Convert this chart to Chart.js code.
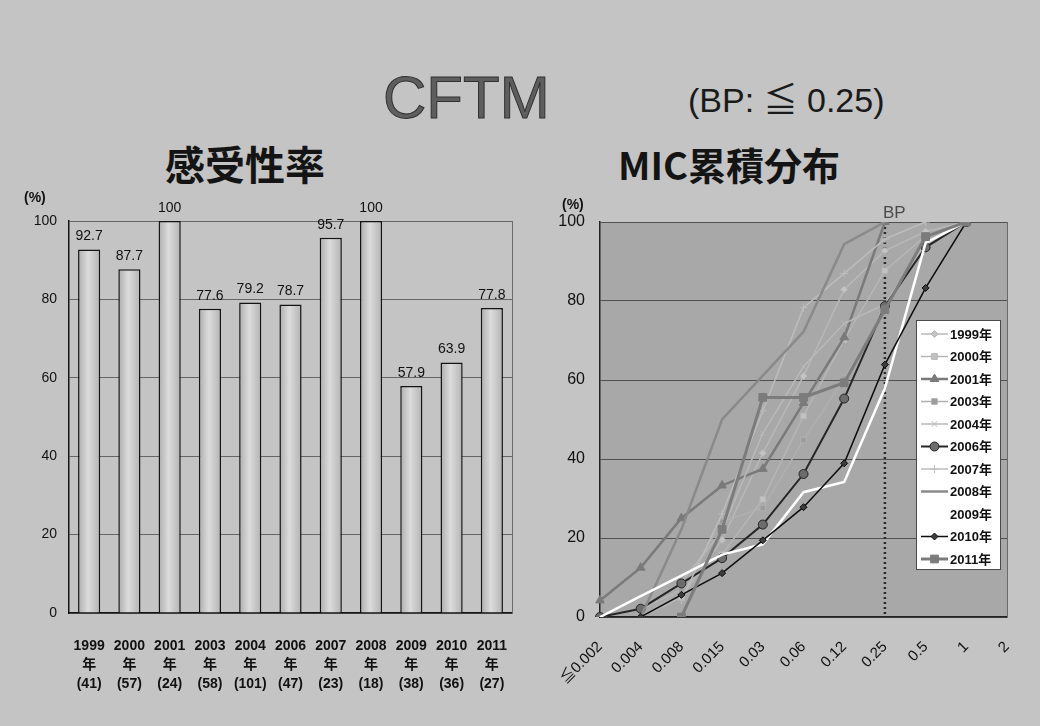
<!DOCTYPE html>
<html>
<head>
<meta charset="utf-8">
<script src="https://cdn.jsdelivr.net/npm/chart.js@4.4.1/dist/chart.umd.min.js"></script>
<style>
  html, body { margin: 0; padding: 0; }
  body {
    width: 1040px; height: 726px; position: relative; overflow: hidden;
    background: #c4c4c4;
    font-family: 'Liberation Sans', 'Noto Sans CJK JP', sans-serif;
  }
  .t { position: absolute; white-space: nowrap; line-height: 1; }
  #drug { left: 383px; top: 68px; font-size: 60px; color: #5e5e5e; -webkit-text-stroke: 1px #303030;
          font-family: 'Liberation Sans', sans-serif; }
  #bp { left: 688px; top: 83px; font-size: 34px; color: #1a1a1a; }
  #sub1, #sub2 { top: 143px; font-size: 40px; font-weight: bold; color: #141414;
                 font-family: 'Noto Sans CJK JP', sans-serif; }
  #sub1 { left: 165px; }
  #sub2 { left: 618px; font-size: 38px; top: 145px; }
  .box { position: absolute; }
  #leftBox { left: 0; top: 185px; width: 540px; height: 515px; }
  #rightBox { left: 540px; top: 190px; width: 500px; height: 510px; }
</style>
</head>
<body>
<div class="t" id="drug">CFTM</div>
<div class="t" id="bp">(BP: ≦ 0.25)</div>
<div class="t" id="sub1">感受性率</div>
<div class="t" id="sub2">MIC累積分布</div>
<div class="box" id="leftBox"><canvas id="rateChart" width="540" height="515"></canvas></div>
<div class="box" id="rightBox"><canvas id="micChart" width="500" height="510"></canvas></div>

<script>
// ---- susceptibility rate by year ----
const years = ['1999', '2000', '2001', '2003', '2004', '2006', '2007', '2008', '2009', '2010', '2011'];
const isolates = [41, 57, 24, 58, 101, 47, 23, 18, 38, 36, 27];
const susceptibility = [92.7, 87.7, 100, 77.6, 79.2, 78.7, 95.7, 100, 57.9, 63.9, 77.8];
const rateTicks = [0, 20, 40, 60, 80, 100];

// ---- cumulative MIC distribution (%) ----
const micLabels = ['≦0.002', '0.004', '0.008', '0.015', '0.03', '0.06', '0.12', '0.25', '0.5', '1', '2'];
const breakpoint = '0.25';
const cum1999 = [null, 0, 4.9, 19.5, 41.5, 61.0, 82.9, 92.7, 97.6, 100, null];
const cum2000 = [null, 1.8, 7.0, 15.8, 29.8, 50.9, 70.2, 87.7, 96.5, 100, null];
const cum2001 = [4.2, 12.5, 25.0, 33.3, 37.5, 54.2, 70.8, 100, null, null, null];
const cum2003 = [null, 0, 6.9, 24.1, 27.6, 44.8, 60.3, 77.6, 94.8, 100, null];
const cum2004 = [0, 2.0, 8.9, 21.8, 46.5, 63.4, 74.3, 79.2, 95.0, 100, null];
const cum2006 = [0, 2.1, 8.5, 14.9, 23.4, 36.2, 55.3, 78.7, 93.6, 100, null];
const cum2007 = [null, null, 4.3, 26.1, 52.2, 78.3, 87.0, 95.7, 100, null, null];
const cum2008 = [null, 0, 22.2, 50.0, 61.1, 72.2, 94.4, 100, null, null, null];
const cum2009 = [0, 5.3, 10.5, 15.8, 18.4, 31.6, 34.2, 57.9, 94.7, 100, null];
const cum2010 = [null, 0, 5.6, 11.1, 19.4, 27.8, 38.9, 63.9, 83.3, 100, null];
const cum2011 = [null, null, 0, 22.2, 55.6, 55.6, 59.3, 77.8, 96.3, 100, null];

const TXT = '#111';

// soft cylindrical shading for each bar
function barFill(c) {
  const el = c.element;
  if (!el || !isFinite(el.x) || !isFinite(el.width)) return '#cfcfcf';
  const g = c.chart.ctx.createLinearGradient(el.x - el.width / 2, 0, el.x + el.width / 2, 0);
  g.addColorStop(0, '#adadad');
  g.addColorStop(0.45, '#dcdcdc');
  g.addColorStop(1, '#b3b3b3');
  return g;
}

const rateDecor = {
  id: 'rateDecor',
  afterDatasetsDraw(chart) {
    const ctx = chart.ctx, a = chart.chartArea;
    ctx.save();
    // right frame edge
    ctx.strokeStyle = '#6a6a6a'; ctx.lineWidth = 1;
    ctx.beginPath(); ctx.moveTo(a.right + 0.5, a.top); ctx.lineTo(a.right + 0.5, a.bottom); ctx.stroke();
    // value labels
    ctx.fillStyle = TXT; ctx.font = '14px "Liberation Sans"';
    ctx.textAlign = 'center'; ctx.textBaseline = 'bottom';
    chart.getDatasetMeta(0).data.forEach((bar, i) => {
      ctx.fillText(String(susceptibility[i]), bar.x, bar.y - 6);
    });
    // unit
    ctx.font = 'bold 14px "Liberation Sans"'; ctx.textAlign = 'left'; ctx.textBaseline = 'middle';
    ctx.fillText('(%)', 24, 13);
    ctx.restore();
  }
};

const rateChart = new Chart(document.getElementById('rateChart'), {
  type: 'bar',
  data: {
    labels: years.map((y, i) => [y, '年', '(' + isolates[i] + ')']),
    datasets: [{
      data: susceptibility,
      backgroundColor: barFill,
      borderColor: '#141414',
      borderWidth: 1.5,
      barPercentage: 0.55,
      categoryPercentage: 1
    }]
  },
  options: {
    responsive: false, animation: false, devicePixelRatio: 1,
    layout: { padding: { top: 36, right: 28, left: 0, bottom: 0 } },
    plugins: { legend: { display: false }, tooltip: { enabled: false } },
    scales: {
      x: {
        grid: { display: false },
        border: { color: '#141414', width: 1.5 },
        ticks: { color: TXT, autoSkip: false, maxRotation: 0, padding: 16,
                 font: { family: "'Liberation Sans','Noto Sans CJK JP'", size: 14, weight: 'bold', lineHeight: 1.36 } },
        afterFit(s) { s.height = 87; }
      },
      y: {
        min: 0, max: 100,
        afterBuildTicks(s) { s.ticks = rateTicks.map(v => ({ value: v })); },
        grid: { color: '#666', lineWidth: 1, drawTicks: false },
        border: { color: '#141414', width: 1.5 },
        ticks: { color: TXT, padding: 12, font: { family: "'Liberation Sans'", size: 14 } },
        afterFit(s) { s.width = 69; }
      }
    }
  },
  plugins: [rateDecor]
});
rateChart.update('none');

// ---- MIC chart ----
const series = [
  { label: '1999年', data: cum1999, color: '#b8b8b8', width: 1.5, style: 'rectRot', r: 3.5, fill: '#c4c4c4' },
  { label: '2000年', data: cum2000, color: '#b6b6b6', width: 1.5, style: 'rect', r: 4, fill: '#c2c2c2' },
  { label: '2001年', data: cum2001, color: '#7a7a7a', width: 2.5, style: 'triangle', r: 5, fill: '#7a7a7a' },
  { label: '2003年', data: cum2003, color: '#b0b0b0', width: 1.5, style: 'rect', r: 4, fill: '#9c9c9c' },
  { label: '2004年', data: cum2004, color: '#b9b9b9', width: 1.5, style: 'crossRot', r: 4, fill: '#c4c4c4' },
  { label: '2006年', data: cum2006, color: '#262626', width: 2, style: 'circle', r: 4.5, fill: '#6c6c6c' },
  { label: '2007年', data: cum2007, color: '#bdbdbd', width: 1.5, style: 'cross', r: 4, fill: '#c8c8c8' },
  { label: '2008年', data: cum2008, color: '#8a8a8a', width: 2.5, style: false, r: 0, fill: '#8a8a8a' },
  { label: '2009年', data: cum2009, color: '#ffffff', width: 2.5, style: false, r: 0, fill: '#ffffff' },
  { label: '2010年', data: cum2010, color: '#0e0e0e', width: 1.5, style: 'rectRot', r: 3.5, fill: '#3c3c3c' },
  { label: '2011年', data: cum2011, color: '#7c7c7c', width: 3, style: 'rect', r: 5.5, fill: '#7c7c7c' }
];

const micDecor = {
  id: 'micDecor',
  beforeDraw(chart) {
    const ctx = chart.ctx, a = chart.chartArea;
    ctx.save();
    ctx.fillStyle = '#a8a8a8';
    ctx.fillRect(a.left, a.top, a.right - a.left, a.bottom - a.top);
    ctx.restore();
  },
  beforeDatasetsDraw(chart) {
    const ctx = chart.ctx, a = chart.chartArea;
    const x = chart.scales.x.getPixelForValue(micLabels.indexOf(breakpoint));
    ctx.save();
    ctx.strokeStyle = '#6a6a6a'; ctx.lineWidth = 1;
    ctx.beginPath(); ctx.moveTo(a.right + 0.5, a.top); ctx.lineTo(a.right + 0.5, a.bottom); ctx.stroke();
    ctx.strokeStyle = '#2a2a2a'; ctx.lineWidth = 2.5; ctx.setLineDash([2, 3]);
    ctx.beginPath(); ctx.moveTo(x, a.top); ctx.lineTo(x, a.bottom); ctx.stroke();
    ctx.setLineDash([]);
    ctx.fillStyle = '#4a4a4a'; ctx.font = '17px "Liberation Sans"';
    ctx.textAlign = 'left'; ctx.textBaseline = 'alphabetic';
    ctx.fillText('BP', x - 2, a.top - 4);
    ctx.fillStyle = TXT; ctx.font = 'bold 14px "Liberation Sans"'; ctx.textBaseline = 'middle';
    ctx.fillText('(%)', 22, 15);
    ctx.restore();
  },
  afterDraw(chart) {
    const ctx = chart.ctx, a = chart.chartArea;
    const bx = a.right - 91, by = a.top + 98, bw = 84, bh = 249;
    ctx.save();
    ctx.fillStyle = '#ffffff'; ctx.fillRect(bx, by, bw, bh);
    ctx.strokeStyle = '#4a4a4a'; ctx.lineWidth = 1; ctx.strokeRect(bx + 0.5, by + 0.5, bw, bh);
    const H = Chart.helpers;
    chart.data.datasets.forEach((ds, i) => {
      const y = by + 14 + i * 22.5;
      ctx.strokeStyle = ds.borderColor; ctx.lineWidth = ds.borderWidth;
      ctx.beginPath(); ctx.moveTo(bx + 5, y); ctx.lineTo(bx + 32, y); ctx.stroke();
      if (ds.pointStyle && ds.pointRadius > 0 && H && H.drawPoint) {
        ctx.fillStyle = ds.pointBackgroundColor; ctx.strokeStyle = ds.pointBorderColor; ctx.lineWidth = 1;
        H.drawPoint(ctx, { pointStyle: ds.pointStyle, radius: ds.pointRadius, borderWidth: 1, rotation: 0 }, bx + 18.5, y);
      }
      ctx.fillStyle = TXT; ctx.font = 'bold 13px "Liberation Sans","Noto Sans CJK JP"';
      ctx.textAlign = 'left'; ctx.textBaseline = 'middle';
      ctx.fillText(ds.label, bx + 34, y + 1);
    });
    ctx.restore();
  }
};

new Chart(document.getElementById('micChart'), {
  type: 'line',
  data: {
    labels: micLabels,
    datasets: series.map((s, i) => ({
      label: s.label,
      data: s.data,
      borderColor: s.color,
      borderWidth: s.width,
      pointStyle: s.style,
      pointRadius: s.r,
      pointBackgroundColor: s.fill,
      pointBorderColor: s.style === 'circle' ? '#262626' : s.color,
      pointBorderWidth: 1,
      tension: 0,
      spanGaps: false,
      order: series.length - i
    }))
  },
  options: {
    responsive: false, animation: false, devicePixelRatio: 1,
    layout: { padding: { top: 32, right: 33, left: 0, bottom: 0 } },
    plugins: { legend: { display: false }, tooltip: { enabled: false } },
    scales: {
      x: {
        offset: false,
        grid: { display: false },
        border: { color: '#222', width: 1.5 },
        ticks: { color: TXT, autoSkip: false, minRotation: 45, maxRotation: 45, padding: 13,
                 font: { family: "'Liberation Sans','Noto Sans CJK JP'", size: 15 } },
        afterFit(s) { s.height = 83; }
      },
      y: {
        min: 0, max: 100,
        afterBuildTicks(s) { s.ticks = rateTicks.map(v => ({ value: v })); },
        grid: { color: '#505050', lineWidth: 1, drawTicks: false },
        border: { color: '#222', width: 1.5 },
        ticks: { color: TXT, padding: 15, font: { family: "'Liberation Sans'", size: 16 } },
        afterFit(s) { s.width = 60; }
      }
    }
  },
  plugins: [micDecor]
});
</script>
</body>
</html>
